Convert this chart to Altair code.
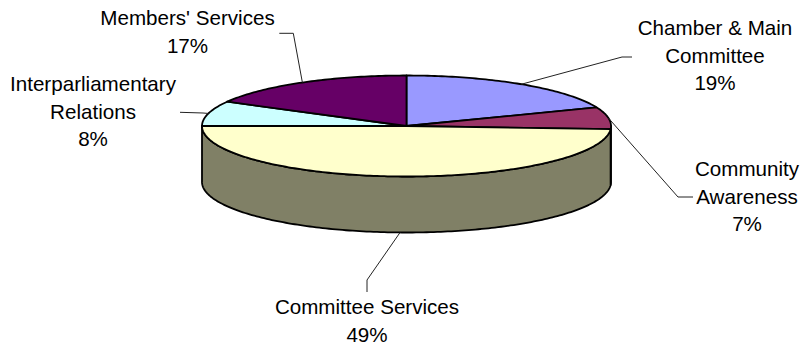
import math
import altair as alt
import pandas as pd

# ---- data ----
categories = ["Chamber & Main\nCommittee", "Community\nAwareness", "Committee Services",
              "Interparliamentary\nRelations", "Members' Services"]
shares = [19, 7, 49, 8, 17]
top_colors = ["#9999FF", "#993366", "#FFFFCC", "#CCFFFF", "#660066"]
side_colors = ["#4D4D80", "#4D1A33", "#808066", "#668080", "#330033"]

# ---- layout (pixel geometry of the 3-D pie) ----
CX, CY, RX, RY, DEPTH = 406.5, 126.0, 204.5, 50.5, 56.0
# centre of first text line of each label
label_anchor = [(715, 29), (747, 170), (367, 308), (93, 85), (187.5, 19)]
leader_elbows = [[(622, 57), (632, 57)],
                 [(678, 197), (693, 197)],
                 [(367, 280), (367, 292)],
                 [(203, 113), (180, 112.3)],
                 [(293.3, 33.3), (279.3, 33.3)]]


def pt(a, dy=0.0):
    t = math.radians(a)
    return [CX + RX * math.sin(t), CY - RY * math.cos(t) + dy]


def arc(a0, a1, dy=0.0):
    n = max(2, int(abs(a1 - a0)) + 2)
    return [pt(a0 + (a1 - a0) * i / (n - 1), dy) for i in range(n)]


total = float(sum(shares))
walls, tops, leaders, texts = [], [], [], []
cum = 0.0
for i, (name, s) in enumerate(zip(categories, shares)):
    a0 = 360.0 * cum / total
    a1 = 360.0 * (cum + s) / total
    cum += s
    lo, hi = max(a0, 90.0), min(a1, 270.0)
    if hi > lo:
        ring = arc(lo, hi) + arc(hi, lo, DEPTH)
        ring.append(ring[0])
        walls.append({"type": "Feature",
                      "geometry": {"type": "Polygon", "coordinates": [ring]},
                      "properties": {"fill": side_colors[i]}})
    ring = [[CX, CY]] + arc(a0, a1) + [[CX, CY]]
    tops.append({"type": "Feature",
                 "geometry": {"type": "Polygon", "coordinates": [ring]},
                 "properties": {"fill": top_colors[i]}})
    mid = (a0 + a1) / 2.0
    start = pt(mid, DEPTH if 90 < mid < 270 else 0.0)
    line = [start] + [list(p) for p in leader_elbows[i]]
    leaders.append({"type": "Feature",
                    "geometry": {"type": "LineString", "coordinates": line},
                    "properties": {"name": name}})
    texts.append({"lx": label_anchor[i][0], "ly": label_anchor[i][1],
                  "text": f"{name}\n{s}%"})

proj = dict(type="identity", scale=1, translate=[0, 0])

wall_layer = alt.Chart(alt.Data(values=walls)).mark_geoshape(
    stroke="black", strokeWidth=1.8, strokeJoin="round"
).encode(fill=alt.Fill("properties.fill:N", scale=None)).project(**proj)

top_layer = alt.Chart(alt.Data(values=tops)).mark_geoshape(
    stroke="black", strokeWidth=1.8, strokeJoin="round"
).encode(fill=alt.Fill("properties.fill:N", scale=None)).project(**proj)

leader_layer = alt.Chart(alt.Data(values=leaders)).mark_geoshape(
    filled=False, stroke="#222222", strokeWidth=1
).encode(detail="properties.name:N").project(**proj)

text_layer = alt.Chart(pd.DataFrame(texts)).mark_text(
    align="center", baseline="middle", lineBreak="\n", lineHeight=27.5,
    fontSize=20.6, font="Liberation Sans", color="black"
).encode(longitude="lx:Q", latitude="ly:Q", text="text:N").project(**proj)

chart = alt.layer(wall_layer, top_layer, leader_layer, text_layer).properties(
    width=805, height=348, padding=0, autosize="none", background="white"
).configure_view(strokeWidth=0)

chart.save("out.html", embed_options={"renderer": "svg", "actions": False})
